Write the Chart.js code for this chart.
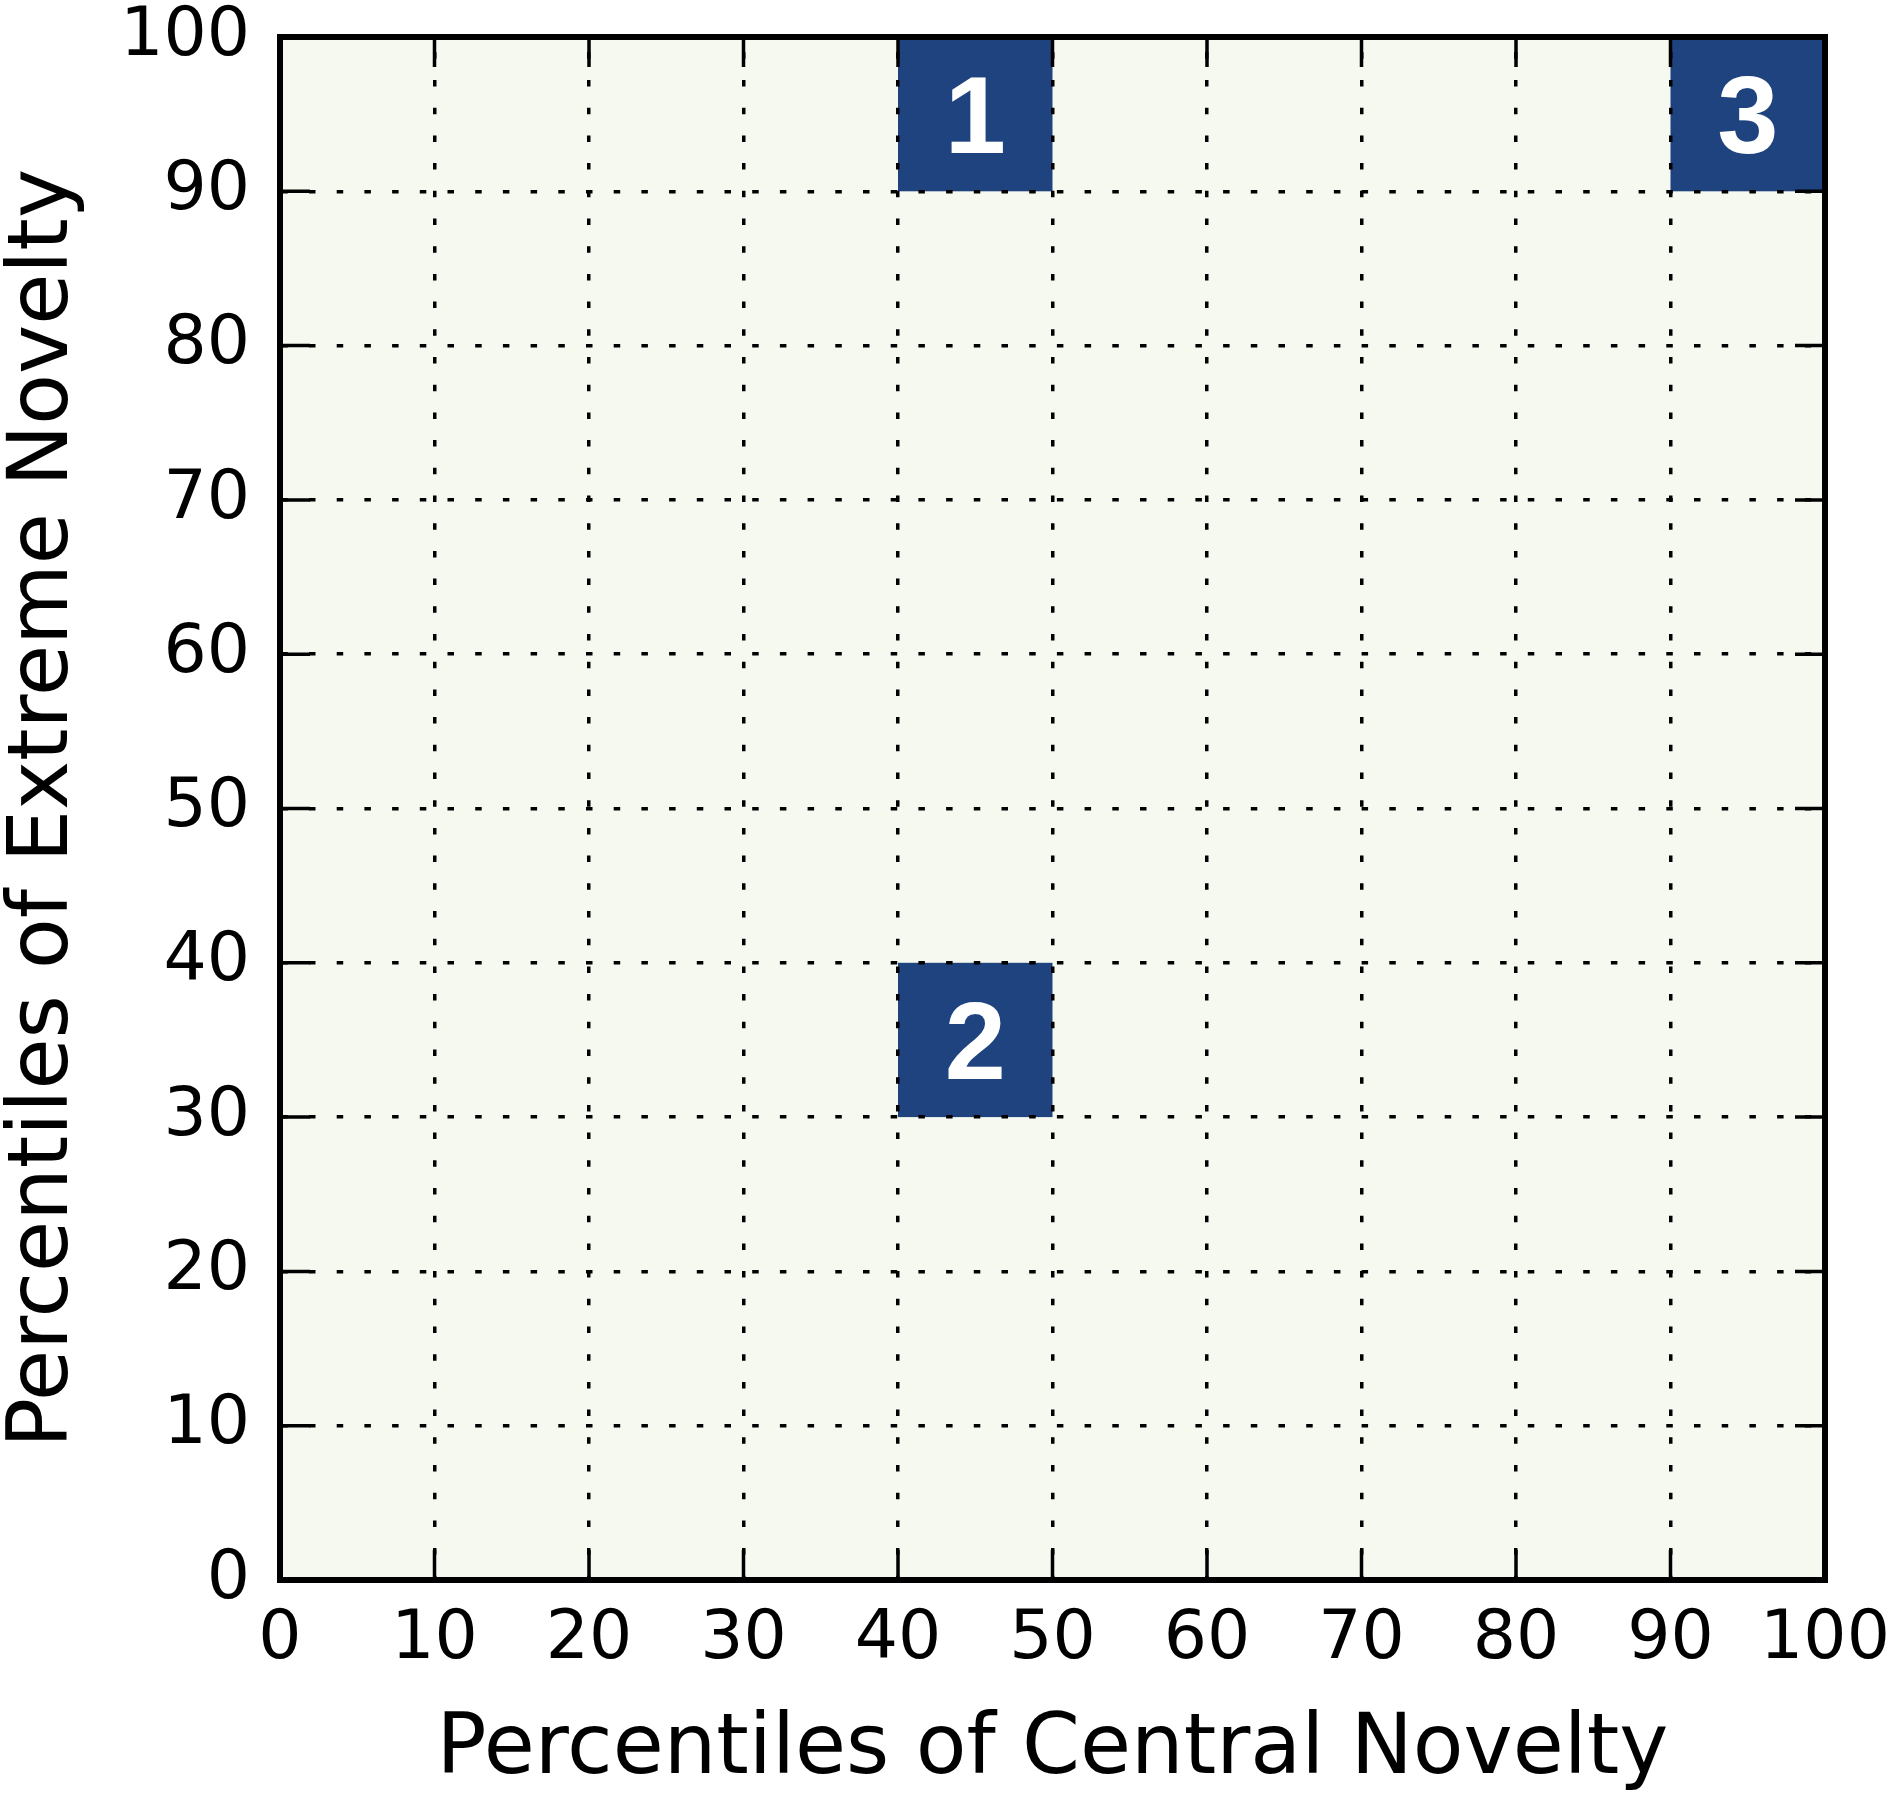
<!DOCTYPE html>
<html>
<head>
<meta charset="utf-8">
<script src="https://cdn.jsdelivr.net/npm/chart.js@4"></script>
<style>
  html, body { margin: 0; padding: 0; background: #fff; }
  #wrap { width: 1890px; height: 1796px; }
</style>
</head>
<body>
<div id="wrap"><canvas id="c" width="1890" height="1796"></canvas></div>
<script>
/* ---------- data ---------- */
const tickValues  = [0, 10, 20, 30, 40, 50, 60, 70, 80, 90, 100];
const cellLabels  = ["1", "2", "3"];
const cellXFrom   = [40, 40, 90];
const cellXTo     = [50, 50, 100];
const cellYFrom   = [90, 30, 90];
const cellYTo     = [100, 40, 100];
const xTitle = "Percentiles of Central Novelty";
const yTitle = "Percentiles of Extreme Novelty";

/* ---------- look ---------- */
const FONT   = "'DejaVu Sans', sans-serif";
const NAVY   = "#1f437f";
const PLOTBG = "#f6f9f0";

/* background + cells go under the grid */
const cellsPlugin = {
  id: "cells",
  beforeDraw(chart) {
    const {ctx, chartArea: a, scales: {x, y}} = chart;
    ctx.save();
    ctx.fillStyle = PLOTBG;
    ctx.fillRect(a.left, a.top, a.right - a.left, a.bottom - a.top);
    ctx.fillStyle = NAVY;
    cellLabels.forEach((_, i) => {
      const x0 = x.getPixelForValue(cellXFrom[i]), x1 = x.getPixelForValue(cellXTo[i]);
      const y0 = y.getPixelForValue(cellYTo[i]),   y1 = y.getPixelForValue(cellYFrom[i]);
      ctx.fillRect(x0, y0, x1 - x0, y1 - y0);
    });
    ctx.restore();
  },
  afterDraw(chart) {
    const {ctx, chartArea: a, scales: {x, y}} = chart;
    ctx.save();
    // numbers in the cells
    ctx.fillStyle = "#fff";
    ctx.font = "bold 110px 'Liberation Sans', Arial, sans-serif";
    ctx.textAlign = "center"; ctx.textBaseline = "alphabetic";
    cellLabels.forEach((t, i) => {
      const cx = x.getPixelForValue((cellXFrom[i] + cellXTo[i]) / 2);
      const cy = y.getPixelForValue((cellYFrom[i] + cellYTo[i]) / 2);
      ctx.fillText(t, cx, cy + 39);
    });
    // inside tick marks on all four sides
    const L = 30;
    ctx.strokeStyle = "#000"; ctx.lineWidth = 3.5;
    ctx.beginPath();
    tickValues.forEach(v => {
      const px = x.getPixelForValue(v), py = y.getPixelForValue(v);
      ctx.moveTo(px, a.bottom); ctx.lineTo(px, a.bottom - L);
      ctx.moveTo(px, a.top);    ctx.lineTo(px, a.top + L);
      ctx.moveTo(a.left, py);   ctx.lineTo(a.left + L, py);
      ctx.moveTo(a.right, py);  ctx.lineTo(a.right - L, py);
    });
    ctx.stroke();
    // frame
    ctx.lineWidth = 6;
    ctx.strokeRect(a.left, a.top, a.right - a.left, a.bottom - a.top);
    ctx.restore();
  }
};

const setTicks = s => { s.ticks = tickValues.map(v => ({value: v})); };
// fixed box sizes, no extra room for overhanging labels
const noPad = s => { s.paddingLeft = s.paddingRight = s.paddingTop = s.paddingBottom = 0; };

new Chart(document.getElementById("c"), {
  type: "scatter",
  data: { datasets: [{ data: [], pointRadius: 0 }] },
  options: {
    responsive: false,
    animation: false,
    devicePixelRatio: 1,
    layout: { padding: { top: 37, right: 65, left: 0, bottom: 0 } },
    plugins: { legend: { display: false }, tooltip: { enabled: false } },
    scales: {
      x: {
        type: "linear", min: 0, max: 100,
        afterBuildTicks: setTicks,
        afterFit: s => { s.height = 216; noPad(s); },
        grid: { color: "#000", lineWidth: 3.5, drawTicks: false },
        border: { display: false, dash: [6.5, 21.2], dashOffset: 12.4 },
        ticks: { color: "#000", font: { family: FONT, size: 68 }, padding: 20, maxRotation: 0 },
        title: { display: true, text: xTitle, color: "#000",
                 font: { family: FONT, size: 83, lineHeight: 1 }, padding: { top: 0, bottom: 3 } }
      },
      y: {
        type: "linear", min: 0, max: 100,
        afterBuildTicks: setTicks,
        afterFit: s => { s.width = 280; noPad(s); },
        grid: { color: "#000", lineWidth: 3.5, drawTicks: false },
        border: { display: false, dash: [6.5, 21.2], dashOffset: 26.4 },
        ticks: { color: "#000", font: { family: FONT, size: 68 }, padding: 30 },
        title: { display: true, text: yTitle, color: "#000",
                 font: { family: FONT, size: 83, lineHeight: 0.94 }, padding: { top: 6, bottom: 0 } }
      }
    }
  },
  plugins: [cellsPlugin]
});
</script>
</body>
</html>
